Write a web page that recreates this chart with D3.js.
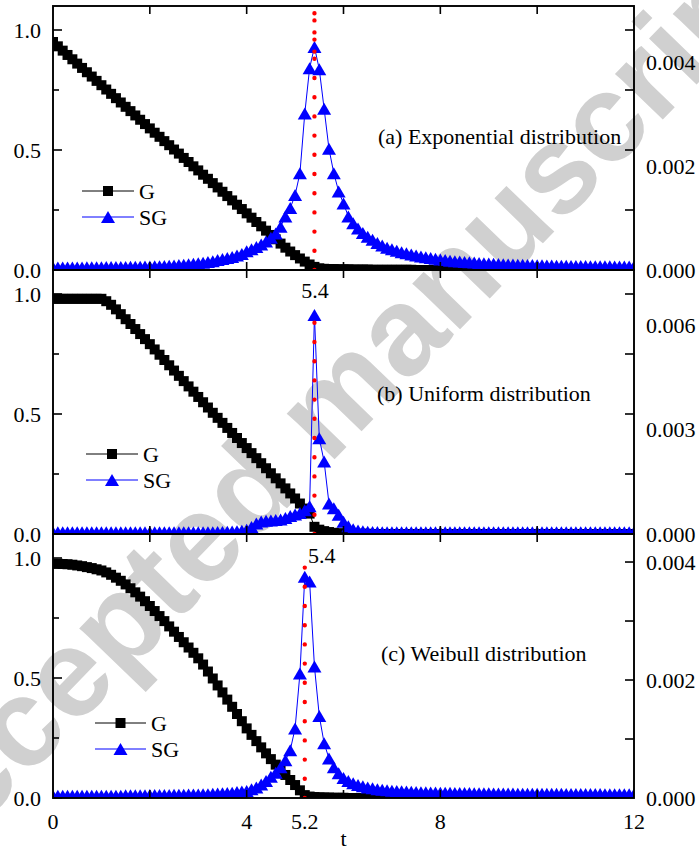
<!DOCTYPE html>
<html>
<head>
<meta charset="utf-8">
<script src="https://cdn.jsdelivr.net/npm/d3@7"></script>
<style>
  body { margin: 0; background: #fff; }
  text { font-family: "Liberation Serif", "Times New Roman", serif; fill: #000; }
</style>
</head>
<body>
<svg id="chart"></svg>
<script>
// sampling grid of the curves, t = 0, 0.1, ... 12
const tGrid = d3.range(0, 121).map((i) => i / 10);

// G curves (left axis)
const gExp = [
  0.950, 0.932, 0.914, 0.896, 0.878, 0.860, 0.842, 0.824, 0.806, 0.788,
  0.770, 0.752, 0.734, 0.716, 0.698, 0.680, 0.662, 0.644, 0.626, 0.608,
  0.590, 0.572, 0.555, 0.537, 0.520, 0.502, 0.485, 0.467, 0.450, 0.432,
  0.415, 0.397, 0.380, 0.362, 0.344, 0.326, 0.308, 0.290, 0.272, 0.254,
  0.236, 0.218, 0.200, 0.182, 0.164, 0.146, 0.128, 0.110, 0.093, 0.077,
  0.062, 0.048, 0.035, 0.023, 0.013, 0.007, 0.005, 0.004, 0.004, 0.003,
  0.003, 0.003, 0.002, 0.002, 0.002, 0.002, 0.001, 0.001, 0.001, 0.001,
  0.001, 0.001, 0.001, 0.001, 0.001, 0, 0, 0, 0, 0,
  0, 0, 0, 0, 0, 0, 0, 0, 0, 0,
  0, 0, 0, 0, 0, 0, 0, 0, 0, 0,
  0, 0, 0, 0, 0, 0, 0, 0, 0, 0,
  0, 0, 0, 0, 0, 0, 0, 0, 0, 0,
  0
];
const gUni = [
  0.980, 0.980, 0.980, 0.980, 0.980, 0.980, 0.980, 0.980, 0.980, 0.980,
  0.980, 0.970, 0.955, 0.936, 0.916, 0.895, 0.875, 0.854, 0.833, 0.812,
  0.791, 0.769, 0.747, 0.725, 0.703, 0.681, 0.659, 0.637, 0.615, 0.593,
  0.571, 0.549, 0.527, 0.505, 0.484, 0.463, 0.442, 0.421, 0.400, 0.379,
  0.358, 0.337, 0.316, 0.295, 0.274, 0.253, 0.232, 0.211, 0.190, 0.169,
  0.148, 0.127, 0.106, 0.085, 0.030, 0.018, 0.012, 0.008, 0.005, 0.003,
  0.002, 0.002, 0.001, 0.001, 0.001, 0.001, 0, 0, 0, 0,
  0, 0, 0, 0, 0, 0, 0, 0, 0, 0,
  0, 0, 0, 0, 0, 0, 0, 0, 0, 0,
  0, 0, 0, 0, 0, 0, 0, 0, 0, 0,
  0, 0, 0, 0, 0, 0, 0, 0, 0, 0,
  0, 0, 0, 0, 0, 0, 0, 0, 0, 0,
  0
];
const gWei = [
  0.976, 0.976, 0.975, 0.974, 0.972, 0.969, 0.966, 0.962, 0.958, 0.953,
  0.948, 0.940, 0.930, 0.918, 0.905, 0.890, 0.874, 0.857, 0.839, 0.820,
  0.800, 0.779, 0.758, 0.737, 0.715, 0.693, 0.671, 0.649, 0.627, 0.605,
  0.582, 0.556, 0.527, 0.498, 0.469, 0.440, 0.410, 0.380, 0.350, 0.320,
  0.290, 0.263, 0.237, 0.211, 0.186, 0.162, 0.139, 0.117, 0.096, 0.075,
  0.054, 0.032, 0.012, 0.006, 0.004, 0.003, 0.002, 0.002, 0.001, 0.001,
  0.001, 0, 0, 0, 0, 0, 0, 0, 0, 0,
  0, 0, 0, 0, 0, 0, 0, 0, 0, 0,
  0, 0, 0, 0, 0, 0, 0, 0, 0, 0,
  0, 0, 0, 0, 0, 0, 0, 0, 0, 0,
  0, 0, 0, 0, 0, 0, 0, 0, 0, 0,
  0, 0, 0, 0, 0, 0, 0, 0, 0, 0,
  0
];

// SG curves (right axis), in units of 1e-3
const sgExp = [
  0.050, 0.050, 0.050, 0.050, 0.050, 0.050, 0.050, 0.052, 0.053, 0.054,
  0.055, 0.056, 0.057, 0.058, 0.059, 0.060, 0.061, 0.062, 0.064, 0.066,
  0.068, 0.071, 0.074, 0.078, 0.083, 0.088, 0.094, 0.100, 0.110, 0.120,
  0.130, 0.140, 0.155, 0.170, 0.190, 0.210, 0.230, 0.250, 0.280, 0.310,
  0.360, 0.400, 0.440, 0.490, 0.550, 0.620, 0.700, 0.830, 1.030, 1.190,
  1.440, 1.860, 3.010, 3.880, 4.290, 3.860, 3.100, 2.330, 1.860, 1.510,
  1.280, 1.030, 0.900, 0.800, 0.710, 0.640, 0.580, 0.520, 0.470, 0.430,
  0.400, 0.370, 0.340, 0.320, 0.300, 0.280, 0.260, 0.245, 0.230, 0.215,
  0.200, 0.190, 0.180, 0.170, 0.162, 0.155, 0.148, 0.142, 0.136, 0.130,
  0.125, 0.120, 0.116, 0.112, 0.108, 0.105, 0.102, 0.099, 0.096, 0.094,
  0.092, 0.090, 0.088, 0.086, 0.084, 0.082, 0.080, 0.078, 0.077, 0.076,
  0.075, 0.074, 0.073, 0.072, 0.071, 0.070, 0.069, 0.068, 0.067, 0.066,
  0.065
];
const sgUni = [
  0.050, 0.050, 0.050, 0.050, 0.050, 0.050, 0.050, 0.050, 0.050, 0.050,
  0.050, 0.050, 0.050, 0.050, 0.050, 0.050, 0.050, 0.050, 0.050, 0.050,
  0.050, 0.050, 0.050, 0.050, 0.050, 0.050, 0.050, 0.050, 0.050, 0.050,
  0.050, 0.050, 0.050, 0.050, 0.055, 0.060, 0.065, 0.070, 0.080, 0.090,
  0.120, 0.200, 0.300, 0.360, 0.380, 0.390, 0.400, 0.420, 0.460, 0.520,
  0.560, 0.600, 0.680, 0.800, 6.290, 2.750, 2.080, 0.880, 0.740, 0.550,
  0.350, 0.220, 0.140, 0.100, 0.080, 0.065, 0.060, 0.055, 0.050, 0.050,
  0.050, 0.050, 0.050, 0.050, 0.050, 0.050, 0.050, 0.050, 0.050, 0.050,
  0.050, 0.050, 0.050, 0.050, 0.050, 0.050, 0.050, 0.050, 0.050, 0.050,
  0.050, 0.050, 0.050, 0.050, 0.050, 0.050, 0.050, 0.050, 0.050, 0.050,
  0.050, 0.050, 0.050, 0.050, 0.050, 0.050, 0.050, 0.050, 0.050, 0.050,
  0.050, 0.050, 0.050, 0.050, 0.050, 0.050, 0.050, 0.050, 0.050, 0.050,
  0.050
];
const sgWei = [
  0.040, 0.040, 0.040, 0.040, 0.040, 0.040, 0.040, 0.040, 0.040, 0.040,
  0.040, 0.040, 0.040, 0.040, 0.040, 0.045, 0.045, 0.045, 0.045, 0.045,
  0.050, 0.050, 0.050, 0.050, 0.050, 0.055, 0.055, 0.055, 0.060, 0.060,
  0.060, 0.065, 0.065, 0.070, 0.075, 0.080, 0.085, 0.090, 0.100, 0.110,
  0.120, 0.150, 0.180, 0.230, 0.290, 0.360, 0.430, 0.520, 0.640, 0.810,
  1.180, 2.110, 3.750, 3.670, 2.230, 1.390, 0.930, 0.670, 0.520, 0.420,
  0.340, 0.290, 0.250, 0.220, 0.200, 0.180, 0.165, 0.150, 0.140, 0.130,
  0.125, 0.120, 0.115, 0.110, 0.105, 0.100, 0.098, 0.096, 0.094, 0.092,
  0.090, 0.088, 0.087, 0.086, 0.085, 0.084, 0.083, 0.082, 0.081, 0.080,
  0.079, 0.078, 0.077, 0.076, 0.075, 0.075, 0.074, 0.074, 0.073, 0.073,
  0.072, 0.072, 0.071, 0.071, 0.070, 0.070, 0.069, 0.069, 0.068, 0.068,
  0.067, 0.067, 0.066, 0.066, 0.065, 0.065, 0.064, 0.064, 0.063, 0.063,
  0.062
];

const panelLabels = ["(a) Exponential distribution", "(b) Uniform distribution", "(c) Weibull distribution"];
const peakLabels = [null, "5.4", "5.4"];
const leftTicks = [0, 0.5, 1.0];
const leftMinor = [0.25, 0.75];
const xLabelTicks = [0, 4, 5.2, 8, 12];
const xTicks = [2, 4, 6, 8, 10];

const width = 699, height = 851;
const plot = { left: 53, right: 634, top: 6, panelH: 264 };

const svg = d3.select("#chart").attr("width", width).attr("height", height);

const x = d3.scaleLinear().domain([0, 12]).range([plot.left, plot.right]);

// watermark underneath everything
svg.append("text")
  .attr("transform", "translate(355,438) rotate(-46)")
  .attr("text-anchor", "middle")
  .style("font-family", "'Liberation Sans', Arial, sans-serif")
  .style("font-weight", "bold")
  .style("font-size", "125px")
  .style("fill", "#d0d0d0")
  .text("Accepted manuscript");

const panels = [
  { g: gExp, sg: sgExp, sgMax: 5.077, sgLabels: [0, 2, 4], mirrorTicks: true,
    peakT: 5.4, lineTop: 1.1, denseFrom: 0.91, peakPos: null,
    textPos: [378, 136], legend: [82, 134, 191] },
  { g: gUni, sg: sgUni, sgMax: 7.586, sgLabels: [0, 3, 6], mirrorTicks: true,
    peakT: 5.4, lineTop: 0.96, denseFrom: null, peakPos: [315, 290, "middle"],
    textPos: [377, 393], legend: [86, 138, 454] },
  { g: gWei, sg: sgWei, sgMax: 4.475, sgLabels: [0, 2, 4], mirrorTicks: false,
    peakT: 5.2, lineTop: 1.04, denseFrom: null, peakPos: [308, 555, "start"],
    textPos: [381, 653], legend: [95, 146, 723] }
];

const triPath = "M0,-6L7,6L-7,6Z";
const squarePath = d3.symbol(d3.symbolSquare, 100)();

panels.forEach((p, i) => {
  const top = plot.top + i * plot.panelH;
  const bottom = top + plot.panelH;
  const yL = d3.scaleLinear().domain([0, 1.1]).range([bottom, top]);
  const yR = d3.scaleLinear().domain([0, p.sgMax]).range([bottom, top]);
  const gp = svg.append("g");

  const clipId = `clip${i}`;
  svg.append("clipPath").attr("id", clipId)
    .append("rect").attr("x", plot.left).attr("y", top)
    .attr("width", plot.right - plot.left).attr("height", plot.panelH);

  const data = tGrid.map((t, k) => ({ t, g: p.g[k], sg: p.sg[k] }));
  const marks = gp.append("g").attr("clip-path", `url(#${clipId})`);

  // G series
  marks.append("path")
    .datum(data)
    .attr("fill", "none").attr("stroke", "#000").attr("stroke-width", 1)
    .attr("d", d3.line().x((d) => x(d.t)).y((d) => yL(d.g)));
  marks.selectAll("path.sq").data(data).join("path")
    .attr("class", "sq")
    .attr("d", squarePath)
    .attr("transform", (d) => `translate(${x(d.t)},${yL(d.g)})`)
    .attr("fill", "#000");

  // SG series
  marks.append("path")
    .datum(data)
    .attr("fill", "none").attr("stroke", "#0000ff").attr("stroke-width", 1)
    .attr("d", d3.line().x((d) => x(d.t)).y((d) => yR(d.sg)));
  marks.selectAll("path.tri").data(data).join("path")
    .attr("class", "tri")
    .attr("d", triPath)
    .attr("transform", (d) => `translate(${x(d.t)},${yR(d.sg)})`)
    .attr("fill", "#0000ff");

  // red dotted line at the peak
  marks.append("line")
    .attr("x1", x(p.peakT)).attr("x2", x(p.peakT))
    .attr("y1", yL(0)).attr("y2", yL(p.lineTop))
    .attr("stroke", "#ff0000").attr("stroke-width", 4.4)
    .attr("stroke-linecap", "round").attr("stroke-dasharray", "0 19.2");
  if (p.denseFrom !== null) {
    marks.append("line")
      .attr("x1", x(p.peakT)).attr("x2", x(p.peakT))
      .attr("y1", yL(p.denseFrom)).attr("y2", yL(1.1))
      .attr("stroke", "#ff0000").attr("stroke-width", 4.4)
      .attr("stroke-linecap", "round").attr("stroke-dasharray", "0 19.2");
  }

  // frame
  gp.append("rect")
    .attr("x", plot.left).attr("y", top)
    .attr("width", plot.right - plot.left).attr("height", plot.panelH)
    .attr("fill", "none").attr("stroke", "#000").attr("stroke-width", 1.9);

  // x ticks, inward on top and bottom
  xTicks.forEach((t) => {
    gp.append("line").attr("x1", x(t)).attr("x2", x(t))
      .attr("y1", top).attr("y2", top + 8).attr("stroke", "#000").attr("stroke-width", 1.6);
    gp.append("line").attr("x1", x(t)).attr("x2", x(t))
      .attr("y1", bottom).attr("y2", bottom - 8).attr("stroke", "#000").attr("stroke-width", 1.6);
  });

  // left ticks + labels
  leftTicks.forEach((v) => {
    gp.append("line").attr("x1", plot.left).attr("x2", plot.left + 9)
      .attr("y1", yL(v)).attr("y2", yL(v)).attr("stroke", "#000").attr("stroke-width", 1.6);
    gp.append("text").attr("x", plot.left - 12).attr("y", yL(v)).attr("dy", "0.35em")
      .attr("text-anchor", "end").style("font-size", "22px").text(d3.format(".1f")(v));
  });
  leftMinor.forEach((v) => {
    gp.append("line").attr("x1", plot.left).attr("x2", plot.left + 6)
      .attr("y1", yL(v)).attr("y2", yL(v)).attr("stroke", "#000").attr("stroke-width", 1.6);
  });

  // right ticks
  const rTicks = p.mirrorTicks ? [0.25, 0.5, 0.75, 1.0].map(yL) : [1, 2, 3, 4].map(yR);
  rTicks.forEach((yy) => {
    gp.append("line").attr("x1", plot.right).attr("x2", plot.right - 9)
      .attr("y1", yy).attr("y2", yy).attr("stroke", "#000").attr("stroke-width", 1.6);
  });
  p.sgLabels.forEach((v) => {
    gp.append("text").attr("x", plot.right + 12).attr("y", yR(v)).attr("dy", "0.35em")
      .style("font-size", "22px").text(d3.format(".3f")(v / 1000));
  });

  // panel caption
  gp.append("text").attr("x", p.textPos[0]).attr("y", p.textPos[1]).attr("dy", "0.35em")
    .style("font-size", "22px").text(panelLabels[i]);

  if (p.peakPos) {
    gp.append("text").attr("x", p.peakPos[0]).attr("y", p.peakPos[1]).attr("dy", "0.35em")
      .attr("text-anchor", p.peakPos[2]).style("font-size", "22px").text(peakLabels[i]);
  }

  // legend
  const [lx0, lx1, ly] = p.legend;
  const mid = (lx0 + lx1) / 2;
  gp.append("line").attr("x1", lx0).attr("x2", lx1).attr("y1", ly).attr("y2", ly)
    .attr("stroke", "#000").attr("stroke-width", 1);
  gp.append("path").attr("d", squarePath).attr("transform", `translate(${mid},${ly})`).attr("fill", "#000");
  gp.append("text").attr("x", lx1 + 5).attr("y", ly).attr("dy", "0.35em").style("font-size", "22px").text("G");
  gp.append("line").attr("x1", lx0).attr("x2", lx1).attr("y1", ly + 26).attr("y2", ly + 26)
    .attr("stroke", "#0000ff").attr("stroke-width", 1);
  gp.append("path").attr("d", triPath).attr("transform", `translate(${mid},${ly + 26})`).attr("fill", "#0000ff");
  gp.append("text").attr("x", lx1 + 5).attr("y", ly + 26).attr("dy", "0.35em").style("font-size", "22px").text("SG");
});

// bottom axis labels
const axisBottom = plot.top + 3 * plot.panelH;
xLabelTicks.forEach((t) => {
  svg.append("text").attr("x", x(t)).attr("y", axisBottom + 23).attr("dy", "0.35em")
    .attr("text-anchor", "middle").style("font-size", "22px").text(t);
});
svg.append("text").attr("x", (plot.left + plot.right) / 2).attr("y", axisBottom + 48)
  .attr("text-anchor", "middle").style("font-size", "22px").text("t");
</script>
</body>
</html>
